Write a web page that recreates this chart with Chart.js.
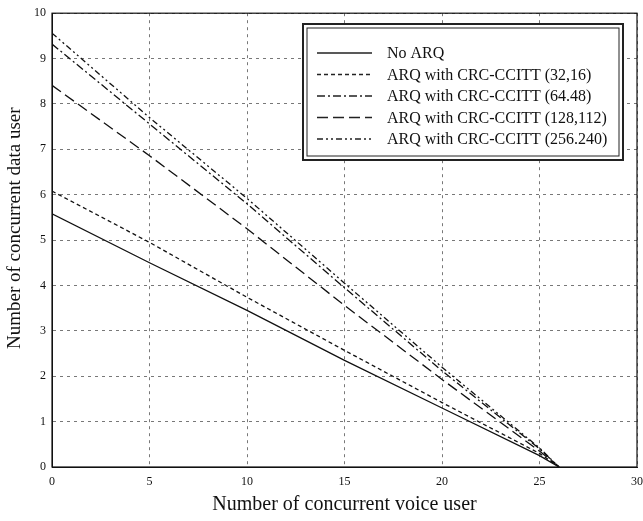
<!DOCTYPE html>
<html>
<head>
<meta charset="utf-8">
<script src="https://cdn.jsdelivr.net/npm/chart.js@4/dist/chart.umd.min.js"></script>
<style>
  html, body { margin: 0; padding: 0; background: #fff; }
  #wrap { width: 643px; height: 521px; }
</style>
</head>
<body>
<div id="wrap"><canvas id="c" width="643" height="521"></canvas></div>
<script>
// voice users (x) and data users for each scheme
const voiceUsers = [0, 5, 10, 15, 20, 25, 26];
const noArq   = [5.58, 4.50, 3.45, 2.35, 1.30, 0.25, 0];
const arq32   = [6.08, 4.95, 3.74, 2.57, 1.42, 0.30, 0];
const arq64   = [9.32, 7.56, 5.80, 3.95, 2.12, 0.40, 0];
const arq128  = [8.41, 6.86, 5.25, 3.56, 1.93, 0.35, 0];
const arq256  = [9.56, 7.70, 5.92, 4.05, 2.20, 0.42, 0];

const labels = [
  'No ARQ',
  'ARQ with CRC-CCITT (32,16)',
  'ARQ with CRC-CCITT (64.48)',
  'ARQ with CRC-CCITT (128,112)',
  'ARQ with CRC-CCITT (256.240)'
];
const series = [noArq, arq32, arq64, arq128, arq256];
const dashes = [[], [4, 3], [8, 3, 2, 3], [11, 5], [6, 3, 2, 3, 2, 3]];

const serif = '"Liberation Serif", "DejaVu Serif", serif';

const datasets = series.map((s, i) => ({
  label: labels[i],
  data: s.map((v, j) => ({ x: voiceUsers[j], y: v })),
  borderColor: '#111',
  borderWidth: 1.3,
  borderDash: dashes[i],
  pointRadius: 0,
  fill: false,
  tension: 0
}));

// frame round the plot + boxed legend in the upper right
const extras = {
  id: 'extras',
  afterDraw(chart) {
    const { ctx, chartArea: a } = chart;
    ctx.save();
    ctx.strokeStyle = '#111';
    ctx.lineWidth = 1.2;
    ctx.strokeRect(a.left, a.top, a.right - a.left, a.bottom - a.top);

    const bx = 303, by = 24, bw = 320, bh = 136;
    ctx.fillStyle = '#fff';
    ctx.fillRect(bx, by, bw, bh);
    ctx.lineWidth = 2;
    ctx.strokeStyle = '#222';
    ctx.strokeRect(bx, by, bw, bh);
    ctx.lineWidth = 1;
    ctx.strokeRect(bx + 4, by + 4, bw - 8, bh - 8);

    ctx.font = '16px ' + serif;
    ctx.textBaseline = 'middle';
    ctx.fillStyle = '#111';
    chart.data.datasets.forEach((ds, i) => {
      const yy = by + 29 + i * 21.5;
      ctx.beginPath();
      ctx.setLineDash(ds.borderDash);
      ctx.lineWidth = 1.3;
      ctx.moveTo(317, yy);
      ctx.lineTo(372, yy);
      ctx.stroke();
      ctx.setLineDash([]);
      ctx.fillText(ds.label, 387, yy + 1);
    });
    ctx.restore();
  }
};

new Chart(document.getElementById('c'), {
  type: 'line',
  data: { datasets: datasets },
  options: {
    responsive: false,
    animation: false,
    layout: { padding: { top: 12, right: 6, left: 0, bottom: 0 } },
    plugins: { legend: { display: false }, tooltip: { enabled: false } },
    scales: {
      x: {
        type: 'linear',
        min: 0, max: 30,
        ticks: { stepSize: 5, color: '#111', font: { family: serif, size: 12 }, padding: 8 },
        grid: { color: '#555', lineWidth: 0.8, tickLength: 0 },
        border: { color: '#111', dash: [3, 4] },
        title: { display: true, text: 'Number of concurrent voice user', color: '#111',
                 font: { family: serif, size: 20 }, padding: { top: 0, bottom: 4 } },
        afterFit(s) { s.height = 54; s.paddingRight = 0; s.paddingLeft = 0; }
      },
      y: {
        min: 0, max: 10,
        ticks: { stepSize: 1, color: '#111', font: { family: serif, size: 12 }, padding: 6 },
        grid: { color: '#555', lineWidth: 0.8, tickLength: 0 },
        border: { color: '#111', dash: [3, 4] },
        title: { display: true, text: '     Number of concurrent data user', color: '#111',
                 font: { family: serif, size: 19 }, padding: { top: 4, bottom: 4 } },
        afterFit(s) { s.width = 52; }
      }
    }
  },
  plugins: [extras]
});
</script>
</body>
</html>
